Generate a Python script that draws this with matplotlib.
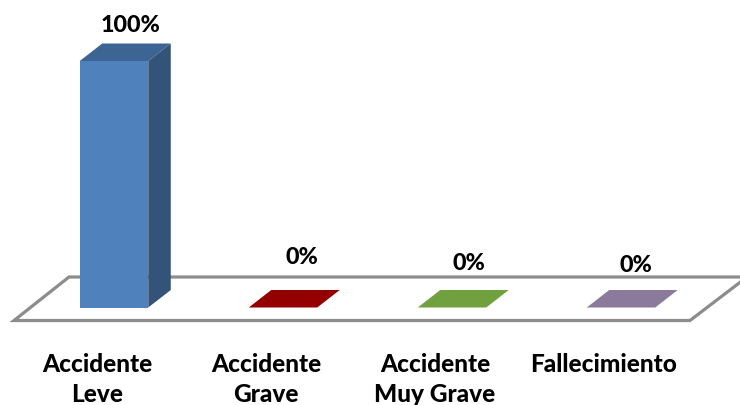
import matplotlib
matplotlib.use('Agg')
import matplotlib.pyplot as plt
from matplotlib.patches import Polygon

# data
categories = ['Accidente\nLeve', 'Accidente\nGrave', 'Accidente\nMuy Grave', 'Fallecimiento']
values = [100, 0, 0, 0]
value_labels = ['100%', '0%', '0%', '0%']

front_colors = ['#4f81bd', '#940000', '#71a03f', '#8b7a9b']
top_colors = ['#3d6594', '#940000', '#71a03f', '#8b7a9b']
side_color = '#345379'
floor_color = '#8c8c8c'

# pixel scale of the plot
W, H = 740, 405
x_unit = 169.0    # px per category
y_unit = 2.465    # px per percent
x0_px, y0_px = 114.0, 307.5

# fake 3d depth, in data units
dx = 22.5 / x_unit
dy = 17.5 / y_unit
bar_w = 68.5 / x_unit

fig = plt.figure(figsize=(W / 100, H / 100), dpi=100)
ax = fig.add_axes([0, 0, 1, 1])
ax.set_xlim(-x0_px / x_unit, (W - x0_px) / x_unit)
ax.set_ylim((y0_px - H) / y_unit, y0_px / y_unit)
ax.axis('off')

# floor
floor_y0 = -13 / y_unit
floor_y1 = 30.5 / y_unit
floor_x = [(14 - x0_px) / x_unit, (690 - x0_px) / x_unit]
floor_back = [(69 - x0_px) / x_unit, (747 - x0_px) / x_unit]
ax.add_patch(Polygon([(floor_x[0], floor_y0), (floor_x[1], floor_y0),
                      (floor_back[1], floor_y1), (floor_back[0], floor_y1)],
                     closed=True, facecolor='white', edgecolor=floor_color,
                     linewidth=2.3, zorder=1, joinstyle='miter'))

# bars
for i, v in enumerate(values):
    left = i - bar_w / 2
    right = i + bar_w / 2
    ax.bar(i, v, width=bar_w, color=front_colors[i], zorder=3, linewidth=0)
    ax.add_patch(Polygon([(left, v), (right, v), (right + dx, v + dy), (left + dx, v + dy)],
                         closed=True, facecolor=top_colors[i], linewidth=0, zorder=3))
    if v > 0:
        ax.add_patch(Polygon([(right, 0), (right + dx, dy), (right + dx, v + dy), (right, v)],
                             closed=True, facecolor=side_color, linewidth=0, zorder=3))

# text
font = ['Lato', 'DejaVu Sans']
size = 17.6
label_offsets = [(17, 35), (19, 50.5), (17, 44.5), (15, 42.5)]
for i, v in enumerate(values):
    off = label_offsets[i]
    ax.text(i + off[0] / x_unit, v + off[1] / y_unit, value_labels[i],
            ha='center', va='center', fontsize=16.8, fontweight=900, color='black',
            family=font, zorder=5)

for i, c in enumerate(categories):
    line1, _, line2 = c.partition('\n')
    ax.text(i - 17 / x_unit, -56.5 / y_unit, line1, ha='center', va='center',
            fontsize=size, fontweight=900, color='black', family=font)
    if line2:
        ax.text(i - 17 / x_unit, -87.5 / y_unit, line2, ha='center', va='center',
                fontsize=size, fontweight=900, color='black', family=font)

fig.savefig('out.png', dpi=100)
